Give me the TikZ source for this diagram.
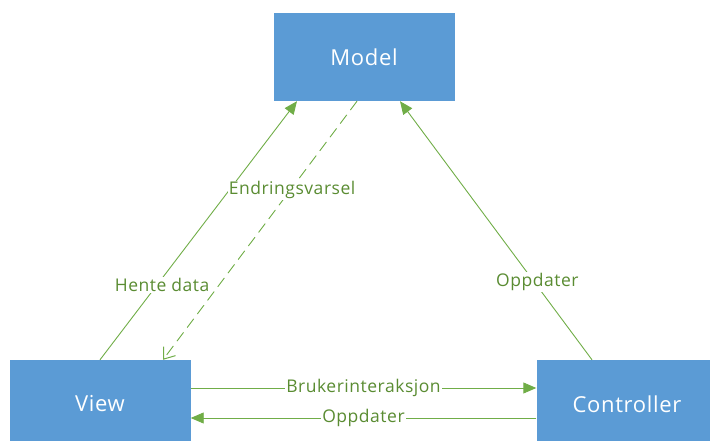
\documentclass[tikz,border=0pt]{standalone}
\usepackage{fontspec}
\setmainfont{Open Sans}[LetterSpace=3]
\usetikzlibrary{arrows.meta}
\definecolor{boxblue}{HTML}{5B9BD5}
\definecolor{linkgreen}{HTML}{70AD47}
\definecolor{labelgreen}{HTML}{5A8C32}
\tikzset{
  block/.style={draw=none, fill=boxblue, minimum width=181pt, minimum height=88pt,
    inner sep=0pt, text=white, font=\fontsize{22}{26}\selectfont},
  link/.style={draw=linkgreen, line width=0.9pt},
  solidtip/.style={-{Triangle[length=13pt,width=11pt]}},
  opentip/.style={-{Straight Barb[length=10pt,width=15pt,line width=1pt]}},
  lbl/.style={fill=white, text=labelgreen, inner sep=1pt, font=\fontsize{17.5}{20}\selectfont},
}
\begin{document}
\begin{tikzpicture}[x=1pt,y=-1pt]
  \useasboundingbox (0,0) rectangle (710,441);
  \clip (0,0) rectangle (710,441);

  % the three components
  \node[block] (model) at (364,57) {Model};
  \node[block] (view) at (100,404) {View};
  \node[block] (ctrl) at (627,404) {Controller};

  % view fetches data from the model
  \draw[link,solidtip] (view.north) -- ([xshift=-67pt]model.south)
    node[lbl,pos=0.29,xshift=5pt] {Hente data};
  % controller updates the model
  \draw[link,solidtip] ([xshift=-35pt]ctrl.north) -- ([xshift=36pt]model.south)
    node[lbl,pos=0.3,xshift=3pt] {Oppdater};
  % model notifies the view of changes
  \draw[link,opentip,dash pattern=on 11pt off 6pt] ([xshift=-7pt]model.south) -- ([xshift=63pt]view.north)
    node[lbl,pos=0.345,xshift=2pt] {Endringsvarsel};

  % interaction between view and controller
  \draw[link,solidtip] ([yshift=16pt]view.east) -- ([yshift=16pt]ctrl.west)
    node[lbl,midway] {Brukerinteraksjon};
  \draw[link,solidtip] ([yshift=-14pt]ctrl.west) -- ([yshift=-14pt]view.east)
    node[lbl,midway] {Oppdater};
\end{tikzpicture}
\end{document}
